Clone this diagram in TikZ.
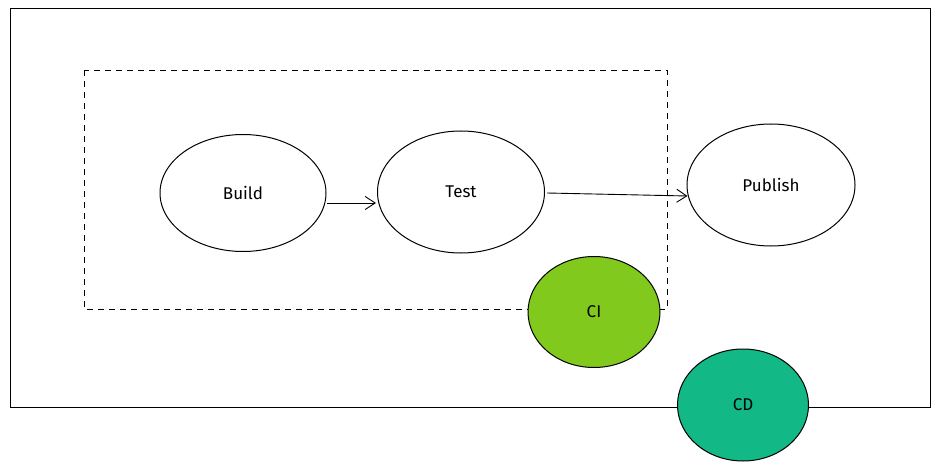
\documentclass[tikz,border=0pt]{standalone}
\usepackage{fontspec}
\setmainfont{Fira Sans}
\usetikzlibrary{shapes.geometric,arrows.meta}
\definecolor{cigreen}{HTML}{82C91E}
\definecolor{cdgreen}{HTML}{12B886}
\tikzset{
  stage/.style={ellipse, draw=black, line width=1pt, fill=white, inner sep=0pt, font=\fontsize{17}{20}\selectfont},
  frame/.style={draw=black, line width=0.9pt},
  dashframe/.style={draw=black, line width=0.9pt, dash pattern=on 6pt off 5pt},
  flow/.style={draw=black, line width=0.9pt, -{Straight Barb[length=10pt,width=13pt]}}
}
\begin{document}
\begin{tikzpicture}[x=1pt,y=-1pt]
\useasboundingbox (0,0) rectangle (941,470);
\fill[white] (0,0) rectangle (941,470);
\draw[frame] (10,8) rectangle (930,407);
\draw[dashframe] (84,70) rectangle (667,309);
\node[stage, minimum width=166pt, minimum height=117pt] (build) at (243,193) {Build};
\node[stage, minimum width=167pt, minimum height=122pt] (test) at (461,192) {Test};
\node[stage, minimum width=168pt, minimum height=122pt] (publish) at (771,185) {Publish};
\node[stage, fill=cigreen, minimum width=132pt, minimum height=111pt] (ci) at (594,312) {CI};
\node[stage, fill=cdgreen, minimum width=131pt, minimum height=112pt] (cd) at (743,405) {CD};
\draw[flow] ([yshift=-10pt]build.east) -- ([xshift=-1pt,yshift=-11pt]test.west);
\draw[flow] ([xshift=2pt,yshift=-1pt]test.east) -- ([xshift=1pt,yshift=-11pt]publish.west);
\end{tikzpicture}
\end{document}
